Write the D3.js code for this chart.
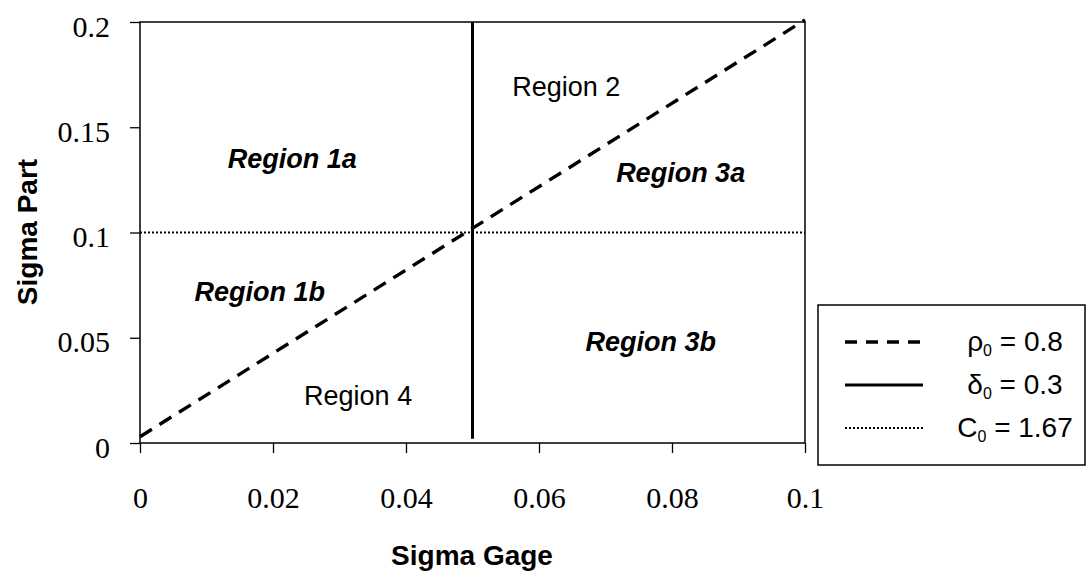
<!DOCTYPE html>
<html><head><meta charset="utf-8">
<script src="https://cdn.jsdelivr.net/npm/d3@7"></script>
<style>body{margin:0;background:#fff}</style>
</head><body>
<svg id="c" width="1088" height="577"></svg>
<script>
const xTicks = [0, 0.02, 0.04, 0.06, 0.08, 0.1];
const yTicks = [0, 0.05, 0.1, 0.15, 0.2];
const xTickLabels = ["0", "0.02", "0.04", "0.06", "0.08", "0.1"];
const yTickLabels = ["0", "0.05", "0.1", "0.15", "0.2"];
const rhoLine = [[0, 0.003], [0.1, 0.201]];
const deltaLine = [[0.05, 0.002], [0.05, 0.2]];
const cLine = [[0, 0.1], [0.1, 0.1]];
const regionNames = ["Region 2", "Region 1a", "Region 3a", "Region 1b", "Region 3b", "Region 4"];
const regionX = [0.0641, 0.0229, 0.0813, 0.0180, 0.0768, 0.0328];
const regionY = [0.1648, 0.1306, 0.1240, 0.0675, 0.0437, 0.0181];
const regionBold = [false, true, true, true, true, false];
const legendSym = ["ρ", "δ", "C"];
const legendVal = ["0.8", "0.3", "1.67"];

const svg = d3.select("#c");
const x = d3.scaleLinear().domain([0, 0.1]).range([140, 805]);
const y = d3.scaleLinear().domain([0, 0.2]).range([443, 22]);

svg.append("rect").attr("x", 140).attr("y", 22).attr("width", 665).attr("height", 421)
  .attr("fill", "none").attr("stroke", "#000").attr("stroke-width", 1.5);

const serif = "Liberation Serif, Times New Roman, serif";
const sans = "Liberation Sans, Arial, sans-serif";

const xAxis = svg.append("g").attr("transform", "translate(0,443)")
  .call(d3.axisBottom(x).tickValues(xTicks).tickSize(10).tickFormat((d, i) => xTickLabels[i]));
xAxis.select(".domain").remove();
xAxis.selectAll("line").attr("stroke", "#000").attr("stroke-width", 1.3);
xAxis.selectAll("text").attr("font-family", serif)
  .attr("font-size", 30).attr("fill", "#000").attr("dy", 0).attr("y", 65);

const yAxis = svg.append("g").attr("transform", "translate(140,0)")
  .call(d3.axisLeft(y).tickValues(yTicks).tickSize(10).tickFormat((d, i) => yTickLabels[i]));
yAxis.select(".domain").remove();
yAxis.selectAll("line").attr("stroke", "#000").attr("stroke-width", 1.3);
yAxis.selectAll("text").attr("font-family", serif)
  .attr("font-size", 30).attr("fill", "#000").attr("x", -30).attr("dy", 14);

const line = d3.line().x(d => x(d[0])).y(d => y(d[1]));
svg.append("path").attr("d", line(cLine)).attr("stroke", "#000").attr("stroke-width", 2.2)
  .attr("stroke-dasharray", "2,2").attr("fill", "none");
svg.append("path").attr("d", line(deltaLine)).attr("stroke", "#000").attr("stroke-width", 3).attr("fill", "none");
svg.append("path").attr("d", line(rhoLine)).attr("stroke", "#000").attr("stroke-width", 3.4)
  .attr("stroke-dasharray", "14,9").attr("fill", "none");

regionNames.forEach((n, i) => {
  svg.append("text").attr("x", x(regionX[i])).attr("y", y(regionY[i]))
    .attr("text-anchor", "middle")
    .attr("font-family", sans).attr("font-size", 27)
    .attr("font-weight", regionBold[i] ? "bold" : "normal")
    .attr("font-style", regionBold[i] ? "italic" : "normal")
    .text(n);
});

svg.append("text").attr("x", 472).attr("y", 565).attr("text-anchor", "middle")
  .attr("font-family", sans).attr("font-size", 28).attr("font-weight", "bold")
  .text("Sigma Gage");
svg.append("text").attr("transform", "translate(37,232) rotate(-90)").attr("text-anchor", "middle")
  .attr("font-family", sans).attr("font-size", 28).attr("font-weight", "bold")
  .text("Sigma Part");

const lg = svg.append("g");
lg.append("rect").attr("x", 818).attr("y", 305).attr("width", 267).attr("height", 160)
  .attr("fill", "#fff").attr("stroke", "#000").attr("stroke-width", 1.5);
const styles = [
  {w: 3.4, dash: "12,9"},
  {w: 3, dash: null},
  {w: 2.2, dash: "2,2"}
];
legendSym.forEach((s, i) => {
  const ly = 342 + i * 43;
  const p = lg.append("line").attr("x1", 845).attr("x2", 923).attr("y1", ly).attr("y2", ly)
    .attr("stroke", "#000").attr("stroke-width", styles[i].w);
  if (styles[i].dash) p.attr("stroke-dasharray", styles[i].dash);
  const t = lg.append("text").attr("x", 1015).attr("y", ly + 9).attr("text-anchor", "middle")
    .attr("font-family", sans).attr("font-size", 28);
  t.append("tspan").text(s);
  t.append("tspan").attr("font-size", 16).attr("dy", 5).text("0");
  t.append("tspan").attr("dy", -5).text(" = " + legendVal[i]);
});
</script>
</body></html>
